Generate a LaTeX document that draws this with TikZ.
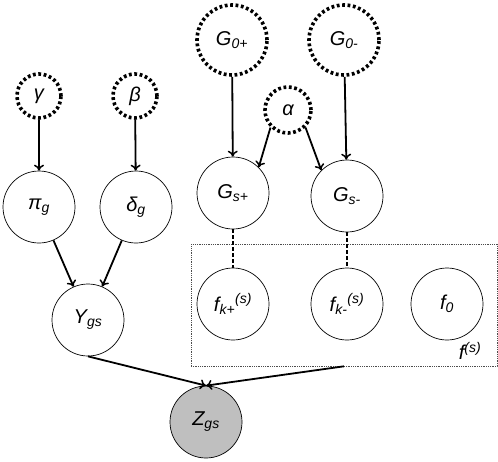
\documentclass[tikz,border=0pt]{standalone}
\usepackage{fontspec}
\setmainfont{Liberation Sans}
\usetikzlibrary{arrows.meta}
\begin{document}
\begin{tikzpicture}[x=1pt,y=-1pt]
        \tikzstyle{hyper}=[circle,draw=black,line width=3.6pt,dash pattern=on 2.8pt off 2.6pt,minimum size=44pt,inner sep=0pt,font=\fontsize{20}{24}\selectfont\itshape]
        \tikzstyle{hyperbig}=[hyper,minimum size=70pt]
        \tikzstyle{var}=[circle,draw=black,line width=0.7pt,minimum size=72pt,inner sep=0pt,font=\fontsize{20}{24}\selectfont\itshape]
        \tikzstyle{edge}=[line width=1.8pt,-{To[length=6pt,width=10pt,line width=1.5pt]}]
        \tikzstyle{link}=[line width=1.6pt,dash pattern=on 4pt off 2pt]
        \useasboundingbox (0,0) rectangle (498,461);
        \node[hyper] (gam) at (39,96) {γ};
        \node[hyper] (bet) at (135,96) {β};
        \node[hyperbig] (g0p) at (232,40) {G\textsubscript{0+}};
        \node[hyperbig] (g0m) at (344,40) {G\textsubscript{0-}};
        \node[hyper,minimum size=46pt] (alp) at (288,110) {α};
        \node[var] (pi) at (39,207) {π\textsubscript{g}};
        \node[var] (del) at (136,207) {δ\textsubscript{g}};
        \node[var] (gsp) at (233,193) {G\textsubscript{s+}};
        \node[var] (gsm) at (347,196) {G\textsubscript{s-}};
        \node[var] (y) at (88,320) {Y\textsubscript{gs}};
        \node[var,fill=black!25] (z) at (206,422) {Z\textsubscript{gs}};
        \node[draw=black!70,line width=0.6pt,dash pattern=on 1pt off 0.8pt,minimum width=306pt,minimum height=122pt,inner sep=0pt] (plate) at (344,305) {};
        \node[var] (fkp) at (233,304) {f\textsubscript{k+}\textsuperscript{(s)}};
        \node[var] (fkm) at (347,304) {f\textsubscript{k-}\textsuperscript{(s)}};
        \node[var] (f0) at (447,304) {f\textsubscript{0}};
        \node[font=\fontsize{20}{24}\selectfont\itshape] (flab) at (470,351) {f\textsuperscript{(s)}};
        \draw[edge] (gam) -- (pi);
        \draw[edge] (bet) -- (del);
        \draw[edge] (g0p) -- (gsp);
        \draw[edge] (g0m) -- (gsm);
        \draw[edge] (alp.south west) -- (gsp.north east);
        \draw[edge] (alp.south east) -- (gsm.north west);
        \draw[edge] (pi) -- (y);
        \draw[edge] (del) -- (y);
        \draw[edge] (y.south) -- (z.north);
        \draw[edge] (plate.south) -- (z.north);
        \draw[link] (gsp) -- (fkp);
        \draw[link] (gsm) -- (fkm);
    \end{tikzpicture}
\end{document}
